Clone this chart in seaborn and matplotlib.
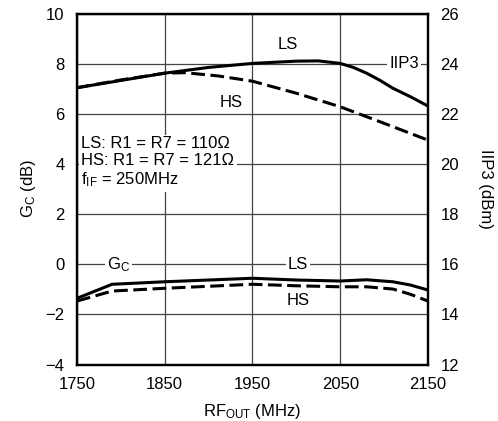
import matplotlib
matplotlib.use("Agg")
import matplotlib.pyplot as plt
import seaborn as sns

# IIP3 curves (right axis, dBm)
freq_iip3_ls = [1750, 1800, 1850, 1900, 1950, 2000, 2025, 2050, 2065, 2080, 2095, 2110, 2130, 2150]
iip3_ls = [23.04, 23.33, 23.62, 23.85, 24.01, 24.1, 24.11, 24.01, 23.85, 23.62, 23.34, 23.02, 22.68, 22.31]
freq_iip3_hs = [1750, 1800, 1850, 1873, 1911, 1950, 2000, 2050, 2100, 2150]
iip3_hs = [23.04, 23.35, 23.62, 23.64, 23.51, 23.3, 22.82, 22.28, 21.62, 20.95]

# conversion gain curves (left axis, dB)
freq_gain = [1750, 1790, 1850, 1950, 2000, 2050, 2080, 2110, 2130, 2150]
gain_ls = [-1.36, -0.8, -0.7, -0.56, -0.63, -0.67, -0.62, -0.7, -0.83, -1.03]
gain_hs = [-1.47, -1.07, -0.96, -0.8, -0.86, -0.9, -0.9, -0.99, -1.2, -1.47]

x_ticks = [1750, 1850, 1950, 2050, 2150]
left_ticks = [-4, -2, 0, 2, 4, 6, 8, 10]
right_ticks = [12, 14, 16, 18, 20, 22, 24, 26]

sns.set_style("white")
plt.rcParams["font.family"] = ["Liberation Sans", "DejaVu Sans"]
plt.rcParams["mathtext.default"] = "regular"
plt.rcParams["font.size"] = 12
plt.rcParams["text.color"] = "black"
plt.rcParams["axes.labelcolor"] = "black"
plt.rcParams["xtick.color"] = "black"
plt.rcParams["ytick.color"] = "black"

fig = plt.figure(figsize=(4.98, 4.21), dpi=100)
ax = fig.add_axes([0.1546, 0.1342, 0.7048, 0.8337])
ax2 = ax.twinx()

lw = 2.2
dash = (4.5, 1.8)
sns.lineplot(x=freq_gain, y=gain_ls, ax=ax, color="black", lw=lw)
sns.lineplot(x=freq_gain, y=gain_hs, ax=ax, color="black", lw=lw).lines[-1].set_dashes(dash)
sns.lineplot(x=freq_iip3_ls, y=iip3_ls, ax=ax2, color="black", lw=lw)
sns.lineplot(x=freq_iip3_hs, y=iip3_hs, ax=ax2, color="black", lw=lw).lines[-1].set_dashes(dash)

ax.set_xlim(1750, 2150)
ax.set_ylim(-4, 10)
ax2.set_ylim(12, 26)
ax.set_xticks(x_ticks)
ax.set_yticks(left_ticks)
ax2.set_yticks(right_ticks)

ax.grid(True, color="#444444", lw=0.9)
ax.set_axisbelow(True)
ax.tick_params(axis="both", length=0, pad=9, labelsize=12)
ax2.tick_params(axis="y", length=0, pad=9, labelsize=12)
for a in (ax, ax2):
    for s in a.spines.values():
        s.set_color("black")
        s.set_linewidth(1.6)

ax.set_xlabel("RF$_{OUT}$ (MHz)", fontsize=12, labelpad=7)
ax.set_ylabel("G$_C$ (dB)", fontsize=12, labelpad=5)
ax2.set_ylabel("IIP3 (dBm)", fontsize=12, rotation=270, labelpad=24)

box = dict(facecolor="white", edgecolor="none", pad=1.5)
ax.text(1990, 8.75, "LS", ha="center", va="center", fontsize=12)
ax.text(1926, 6.45, "HS", ha="center", va="center", fontsize=12)
ax.text(2123, 8.0, "IIP3", ha="center", va="center", fontsize=12, bbox=box)
ax.text(1797, 0.0, "G$_C$", ha="center", va="center", fontsize=12, bbox=box)
ax.text(2002, 0.0, "LS", ha="center", va="center", fontsize=12, bbox=box)
ax.text(2002, -1.45, "HS", ha="center", va="center", fontsize=12)
ax.text(1755, 4.05, "LS: R1 = R7 = 110Ω\nHS: R1 = R7 = 121Ω\nf$_{IF}$ = 250MHz",
        ha="left", va="center", fontsize=12, linespacing=1.15,
        bbox=dict(facecolor="white", edgecolor="none", pad=2))

fig.savefig("out.png", dpi=100)
